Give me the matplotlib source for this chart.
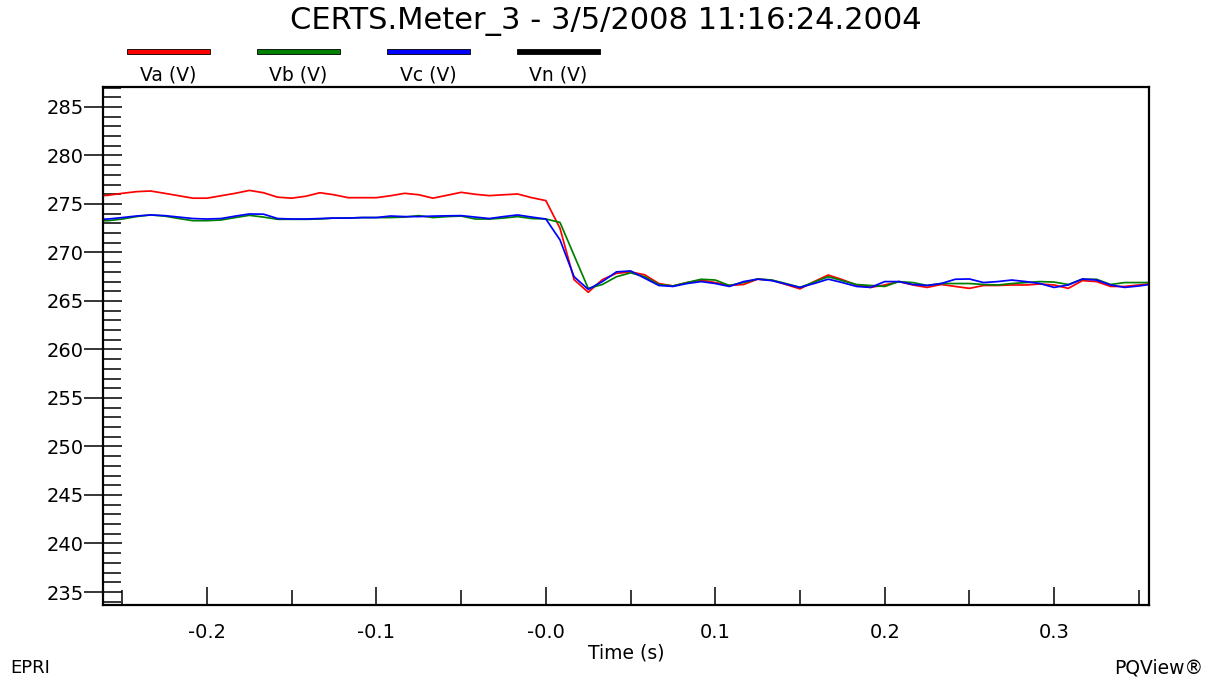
import matplotlib

matplotlib.use("Agg")
import matplotlib.pyplot as plt
import numpy as np
from matplotlib.patches import Rectangle
from matplotlib.ticker import FixedLocator, MultipleLocator

# the reference text is wide, DejaVu Sans is the widest close match
plt.rcParams["font.family"] = ["DejaVu Sans"]

# half-cycle RMS samples, 120 per second, sample index -32 .. 43
sample_index = np.arange(-32, 44)
samples_per_second = 120.0

va = [
    275.8, 275.9, 276.1, 276.27, 276.34, 276.1, 275.85, 275.6, 275.6, 275.85,
    276.1, 276.4, 276.16, 275.7, 275.6, 275.8, 276.16, 275.95, 275.65, 275.65,
    275.65, 275.85, 276.1, 275.95, 275.6, 275.9, 276.2, 276.0, 275.86, 275.95,
    276.03, 275.65, 275.35,
    272.5, 267.2, 265.9, 267.2, 267.85, 268.0, 267.7, 266.8, 266.55, 266.9,
    267.15, 266.9, 266.6, 266.7, 267.25, 267.15, 266.7, 266.25, 267.0, 267.68,
    267.2, 266.65, 266.4, 266.65, 267.0, 266.65, 266.4, 266.7, 266.5, 266.3,
    266.6, 266.6, 266.65, 266.65, 266.75, 266.65, 266.3, 267.1, 267.0, 266.5,
    266.5, 266.65, 266.8,
]
vb = [
    273.25, 273.28, 273.45, 273.7, 273.87, 273.75, 273.5, 273.28, 273.28, 273.35,
    273.6, 273.83, 273.65, 273.42, 273.42, 273.42, 273.45, 273.55, 273.55, 273.6,
    273.6, 273.6, 273.65, 273.8, 273.6, 273.7, 273.76, 273.45, 273.45, 273.55,
    273.7, 273.5, 273.45,
    273.1, 269.7, 266.3, 266.7, 267.5, 267.9, 267.5, 266.7, 266.55, 266.9,
    267.24, 267.16, 266.6, 266.9, 267.27, 267.16, 266.8, 266.4, 266.95, 267.5,
    267.1, 266.7, 266.6, 266.5, 267.0, 266.9, 266.6, 266.8, 266.8, 266.8,
    266.7, 266.65, 266.8, 266.9, 267.0, 266.95, 266.7, 267.24, 267.24, 266.7,
    266.9, 266.9, 266.9,
]
vc = [
    273.4, 273.45, 273.6, 273.76, 273.87, 273.8, 273.65, 273.5, 273.45, 273.5,
    273.75, 273.97, 273.95, 273.5, 273.45, 273.45, 273.5, 273.55, 273.55, 273.6,
    273.6, 273.76, 273.7, 273.7, 273.75, 273.78, 273.8, 273.65, 273.5, 273.7,
    273.87, 273.65, 273.45,
    271.3, 267.5, 266.2, 267.0, 268.0, 268.1, 267.35, 266.6, 266.5, 266.8,
    267.0, 266.8, 266.5, 267.0, 267.25, 267.1, 266.75, 266.4, 266.8, 267.25,
    266.9, 266.5, 266.4, 267.0, 267.0, 266.7, 266.6, 266.8, 267.24, 267.27,
    266.9, 267.0, 267.16, 267.0, 266.8, 266.4, 266.65, 267.27, 267.16, 266.65,
    266.4, 266.55, 266.75,
]

series_labels = ["Va (V)", "Vb (V)", "Vc (V)", "Vn (V)"]
series_colors = ["#ff0000", "#008000", "#0000ff", "#000000"]

x_ticks = [-0.2, -0.1, 0.0, 0.1, 0.2, 0.3]
x_tick_labels = ["-0.2", "-0.1", "-0.0", "0.1", "0.2", "0.3"]

time_s = sample_index / samples_per_second

fig = plt.figure(figsize=(12.12, 6.8), dpi=100)
ax = fig.add_axes([103 / 1212, 1 - 605 / 680, 1046 / 1212, 518 / 680])

for values, color in zip([va, vb, vc], series_colors[:3]):
    ax.plot(time_s, values, color=color, lw=1.25)

ax.set_xlim(-0.2614, 0.356)
ax.set_ylim(233.66, 287.06)

ax.xaxis.set_major_locator(FixedLocator(x_ticks))
ax.set_xticklabels(x_tick_labels)
ax.xaxis.set_minor_locator(MultipleLocator(0.05))
ax.yaxis.set_major_locator(MultipleLocator(5))
ax.yaxis.set_minor_locator(MultipleLocator(1))

ax.tick_params(axis="x", which="major", direction="in", length=13, width=1.1,
               labelsize=14, pad=13)
ax.tick_params(axis="x", which="minor", direction="in", length=11, width=1.1)
ax.tick_params(axis="y", which="major", direction="inout", length=28, width=1.1,
               labelsize=14, pad=0)
ax.tick_params(axis="y", which="minor", direction="in", length=13, width=1.1)
ax.tick_params(top=False, right=False, which="both")

for side in ["left", "right", "bottom", "top"]:
    ax.spines[side].set_linewidth(1.6)

ax.set_xlabel("Time (s)", fontsize=13.5, labelpad=1)

fig.text(0.5, 1 - 21 / 680, "CERTS.Meter_3 - 3/5/2008 11:16:24.2004",
         ha="center", va="center", fontsize=22)

# legend: colour bars with labels underneath
legend_left = [127, 257, 387, 517]
for left, label, color in zip(legend_left, series_labels, series_colors):
    fig.patches.append(Rectangle((left / 1212, 1 - 54 / 680), 83 / 1212, 5 / 680,
                                 transform=fig.transFigure, facecolor=color,
                                 edgecolor="black", lw=0.6))
    fig.text((left + 41) / 1212, 1 - 75 / 680, label, ha="center", va="center",
             fontsize=13.5)

fig.text(10 / 1212, 1 - 668 / 680, "EPRI", ha="left", va="center", fontsize=13)
fig.text(1203 / 1212, 1 - 668 / 680, "PQView®", ha="right", va="center",
         fontsize=13.5)

fig.savefig("out.png", dpi=100)
